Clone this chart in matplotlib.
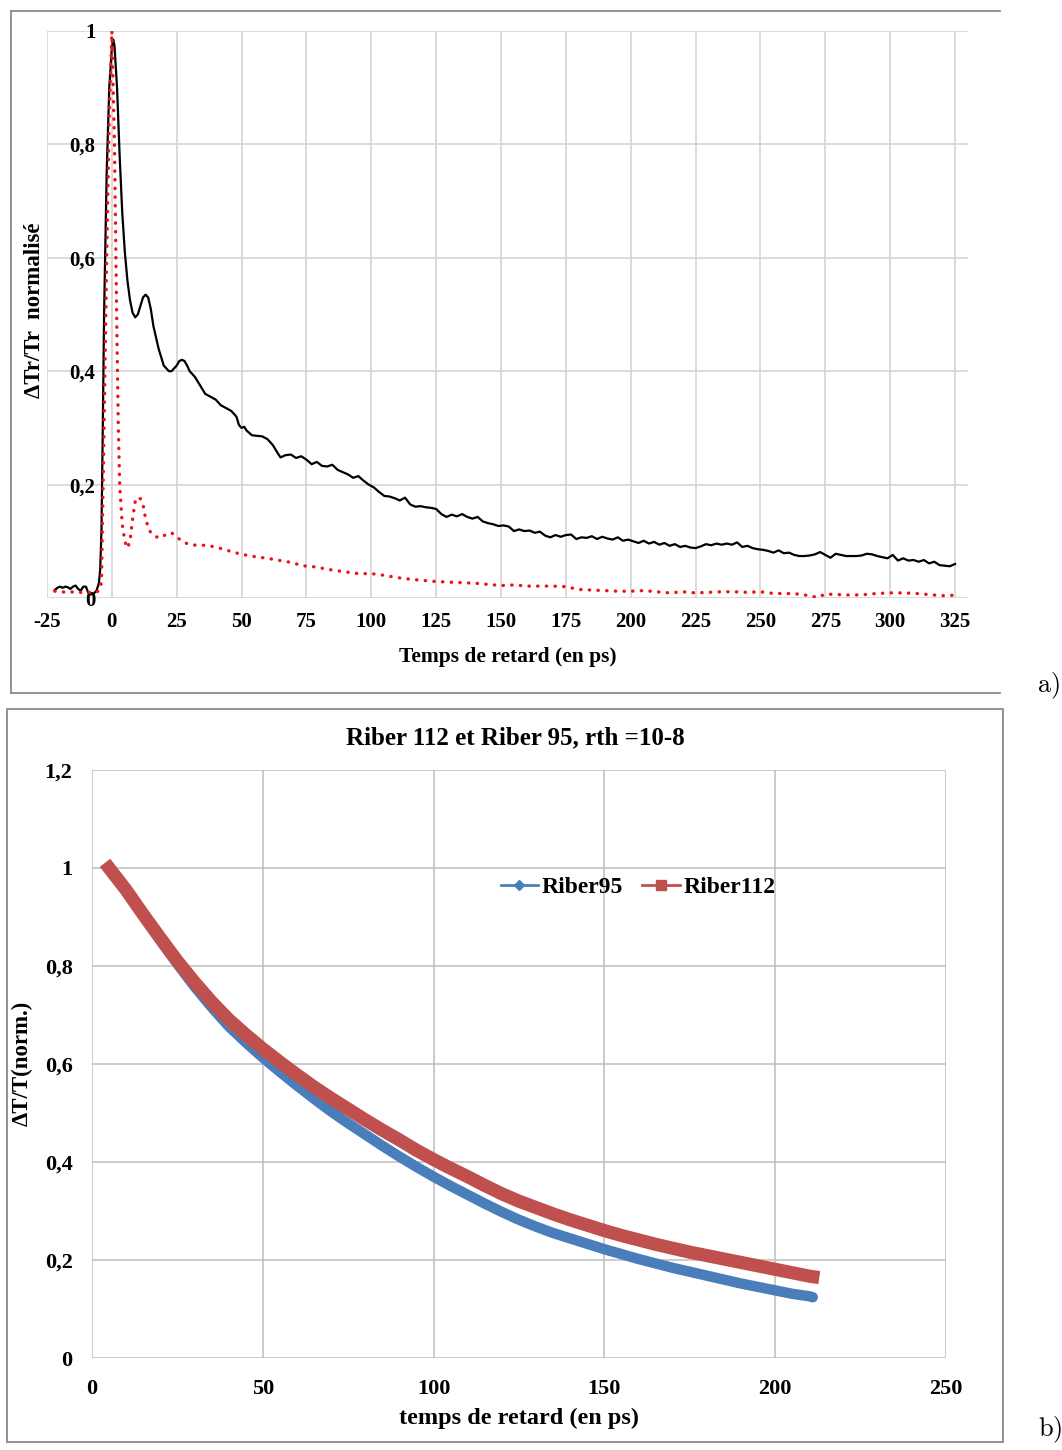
import matplotlib
matplotlib.use('Agg')
import matplotlib.pyplot as plt
from matplotlib.lines import Line2D
from matplotlib.patches import Rectangle

plt.rcParams['font.family'] = ['Liberation Serif', 'DejaVu Serif']
plt.rcParams['mathtext.fontset'] = 'cm'

# ---------------- data: chart a) ----------------
black_t = [-22, -21, -20, -19, -18, -17, -16, -15, -14, -13, -12, -11, -10, -9, -8, -7, -6, -5,
           -4.5, -4, -3.5, -3, -2, -1, 0, 0.5, 1, 2, 3, 4, 5, 6, 7, 8, 9, 10, 11, 12, 13, 14, 15,
           16, 17, 18, 19, 20, 21, 22, 23, 24, 25, 26, 27, 28, 29, 30, 32, 34, 36, 38, 40, 42,
           44, 46, 48, 49, 50, 51, 52, 54, 56, 58, 60, 62, 64, 65, 67, 69, 71, 73, 75, 77, 79,
           81, 83, 85, 87, 89, 91, 93, 95, 97, 99, 101, 103, 105, 107, 109, 111, 113, 115, 117,
           119, 121, 123, 125, 127, 129, 131, 133, 135, 137, 139, 141, 143, 145, 147, 149, 151,
           153, 155, 157, 159, 161, 163, 165, 167, 169, 171, 173, 175, 177, 179, 181, 183, 185,
           187, 189, 191, 193, 195, 197, 199, 201, 203, 205, 207, 209, 211, 213, 215, 217, 219,
           221, 223, 225, 227, 229, 231, 233, 235, 237, 239, 241, 243, 245, 247, 249, 251, 253,
           255, 257, 259, 261, 263, 265, 267, 269, 271, 273, 275, 277, 279, 281, 283, 285, 287,
           289, 291, 293, 295, 297, 299, 301, 303, 305, 307, 309, 311, 313, 315, 317, 319, 321,
           323, 325]
black_y = [0.014, 0.018, 0.020, 0.018, 0.020, 0.019, 0.016, 0.020, 0.022, 0.016, 0.013, 0.020,
           0.020, 0.008, 0.006, 0.008, 0.012, 0.026, 0.050, 0.120, 0.300, 0.500, 0.750, 0.900,
           0.970, 0.985, 0.975, 0.900, 0.780, 0.680, 0.610, 0.560, 0.525, 0.503, 0.495, 0.500,
           0.515, 0.530, 0.535, 0.530, 0.510, 0.480, 0.460, 0.440, 0.425, 0.410, 0.405, 0.400,
           0.400, 0.405, 0.410, 0.418, 0.420, 0.418, 0.410, 0.400, 0.390, 0.375, 0.360, 0.355,
           0.350, 0.340, 0.335, 0.330, 0.320, 0.305, 0.300, 0.302, 0.295, 0.287, 0.286, 0.285,
           0.280, 0.270, 0.255, 0.248, 0.252, 0.253, 0.247, 0.250, 0.244, 0.236, 0.240, 0.233,
           0.232, 0.235, 0.226, 0.222, 0.218, 0.212, 0.215, 0.207, 0.200, 0.195, 0.187, 0.180,
           0.179, 0.176, 0.172, 0.177, 0.165, 0.161, 0.162, 0.160, 0.159, 0.157, 0.148, 0.143,
           0.147, 0.144, 0.148, 0.143, 0.140, 0.143, 0.135, 0.132, 0.130, 0.127, 0.128, 0.126,
           0.118, 0.121, 0.118, 0.119, 0.115, 0.117, 0.110, 0.107, 0.111, 0.108, 0.111, 0.112,
           0.104, 0.107, 0.106, 0.109, 0.104, 0.108, 0.105, 0.103, 0.107, 0.101, 0.103, 0.100,
           0.097, 0.101, 0.096, 0.099, 0.094, 0.097, 0.092, 0.095, 0.090, 0.092, 0.089, 0.088,
           0.091, 0.095, 0.093, 0.096, 0.094, 0.096, 0.094, 0.098, 0.090, 0.092, 0.088, 0.086,
           0.085, 0.083, 0.080, 0.084, 0.079, 0.080, 0.076, 0.074, 0.074, 0.075, 0.077, 0.081,
           0.076, 0.071, 0.078, 0.076, 0.074, 0.074, 0.074, 0.075, 0.078, 0.077, 0.074, 0.072,
           0.070, 0.076, 0.066, 0.070, 0.066, 0.067, 0.064, 0.067, 0.061, 0.064, 0.058, 0.057,
           0.056, 0.060]

red_t = [-22, -20, -18, -16, -14, -12, -10, -8, -6, -4.5, -4, -3, -2, -1, 0, 1, 2, 2.5, 3, 4,
         5, 6, 7, 8, 9, 10, 11, 12, 13, 14, 15, 17, 19, 21, 23, 25, 27, 30, 33, 36, 40, 43, 46,
         50, 55, 60, 65, 70, 73, 78, 84, 90, 95, 100, 105, 110, 115, 120, 125, 130, 135, 140,
         145, 150, 155, 160, 165, 170, 175, 180, 185, 190, 195, 200, 205, 210, 215, 220, 225,
         230, 235, 240, 245, 250, 255, 260, 265, 270, 272, 275, 280, 285, 290, 295, 300, 305,
         310, 315, 320, 325]
red_y = [0.012, 0.012, 0.010, 0.010, 0.012, 0.010, 0.010, 0.010, 0.010, 0.015, 0.030, 0.300,
         0.600, 0.850, 1.000, 0.800, 0.450, 0.300, 0.200, 0.130, 0.100, 0.088, 0.100, 0.140,
         0.170, 0.178, 0.175, 0.165, 0.140, 0.125, 0.115, 0.108, 0.106, 0.113, 0.115, 0.108,
         0.100, 0.094, 0.093, 0.093, 0.090, 0.086, 0.082, 0.077, 0.073, 0.070, 0.066, 0.062,
         0.057, 0.055, 0.050, 0.046, 0.043, 0.043, 0.040, 0.036, 0.033, 0.031, 0.029, 0.028,
         0.027, 0.026, 0.024, 0.022, 0.023, 0.021, 0.021, 0.021, 0.020, 0.015, 0.014, 0.013,
         0.012, 0.012, 0.013, 0.011, 0.009, 0.011, 0.009, 0.010, 0.011, 0.011, 0.010, 0.011,
         0.008, 0.008, 0.007, 0.003, 0.001, 0.007, 0.006, 0.005, 0.006, 0.008, 0.009, 0.009,
         0.008, 0.006, 0.004, 0.005]

a_xticks = [-25, 0, 25, 50, 75, 100, 125, 150, 175, 200, 225, 250, 275, 300, 325]
a_yticks = [0, 0.2, 0.4, 0.6, 0.8, 1.0]
a_yticklabels = ['0', '0,2', '0,4', '0,6', '0,8', '1']

# ---------------- data: chart b) ----------------
b_t = [5, 10, 15, 20, 25, 30, 35, 40, 45, 50, 55, 60, 65, 70, 75, 80, 85, 90, 95, 100, 105,
       110, 115, 120, 125, 130, 135, 140, 145, 150, 155, 160, 165, 170, 175, 180, 185, 190,
       195, 200, 205, 210, 211]
riber112 = [1.000, 0.955, 0.905, 0.857, 0.810, 0.767, 0.727, 0.691, 0.660, 0.631, 0.604, 0.578,
            0.553, 0.530, 0.508, 0.486, 0.465, 0.445, 0.424, 0.405, 0.387, 0.370, 0.352, 0.335,
            0.320, 0.307, 0.294, 0.282, 0.271, 0.260, 0.250, 0.241, 0.232, 0.224, 0.216, 0.209,
            0.202, 0.195, 0.188, 0.181, 0.174, 0.167, 0.166]
riber95 = [1.000, 0.953, 0.902, 0.852, 0.804, 0.758, 0.716, 0.677, 0.644, 0.613, 0.584, 0.556,
           0.529, 0.503, 0.479, 0.456, 0.433, 0.411, 0.390, 0.370, 0.351, 0.333, 0.315, 0.298,
           0.282, 0.268, 0.255, 0.244, 0.233, 0.222, 0.212, 0.202, 0.193, 0.184, 0.176, 0.168,
           0.160, 0.152, 0.145, 0.138, 0.131, 0.126, 0.124]
b_xticks = [0, 50, 100, 150, 200, 250]
b_yticks = [0, 0.2, 0.4, 0.6, 0.8, 1.0, 1.2]
b_yticklabels = ['0', '0,2', '0,4', '0,6', '0,8', '1', '1,2']

# ---------------- figure ----------------
W, H = 1062, 1450
fig = plt.figure(figsize=(W / 100, H / 100), dpi=100)


def fx(px):
    return px / W


def fy(py):
    return 1 - py / H


frame_c = '#8a8a8a'
# frame of chart a (no right border)
for xs, ys in [([11, 1000], [11, 11]), ([11, 1000], [693, 693]), ([11, 11], [11, 693])]:
    fig.add_artist(Line2D([fx(v) for v in xs], [fy(v) for v in ys], color=frame_c, lw=1.3))
# frame of chart b
fig.add_artist(Rectangle((fx(7), fy(1442)), fx(1003) - fx(7), fy(709) - fy(1442),
                         fill=False, edgecolor=frame_c, lw=1.3, transform=fig.transFigure))

# ---- chart a ----
ax1 = fig.add_axes([fx(47), fy(598), fx(968) - fx(47), fy(31) - fy(598)])
ax1.set_xlim(-25, 330)
ax1.set_ylim(0, 1)
for s in ax1.spines.values():
    s.set_visible(False)
ax1.set_xticks(a_xticks)
ax1.set_xticklabels([str(v) for v in a_xticks])
ax1.set_yticks(a_yticks)
ax1.set_yticklabels(a_yticklabels)
ax1.grid(True, color='#d4d4d4', lw=1.2)
ax1.set_axisbelow(True)
ax1.tick_params(axis='x', length=0, pad=10, labelsize=15)
ax1.tick_params(axis='y', length=0, pad=-35, labelsize=15)
for lab in ax1.get_xticklabels() + ax1.get_yticklabels():
    lab.set_fontweight('bold')
ax1.plot(black_t, black_y, color='black', lw=1.6, zorder=3)
ax1.plot(red_t, red_y, color='#ee1111', lw=2.4, linestyle=(0, (0.1, 2.5)),
         dash_capstyle='round', zorder=4)

fig.text(fx(508), fy(657), 'Temps de retard (en ps)', ha='center', va='center',
         fontsize=15.5, fontweight='bold')
fig.text(fx(35), fy(310), 'ΔTr/Tr  normalisé', ha='center', va='center', rotation=90,
         fontsize=16.5, fontweight='bold')
fig.text(fx(1048), fy(686), r'$\mathrm{a)}$', ha='center', va='center', fontsize=19)

# ---- chart b ----
ax2 = fig.add_axes([fx(92), fy(1358), fx(946) - fx(92), fy(770) - fy(1358)])
ax2.set_xlim(0, 250)
ax2.set_ylim(0, 1.2)
for s in ax2.spines.values():
    s.set_visible(False)
ax2.set_xticks(b_xticks)
ax2.set_xticklabels([str(v) for v in b_xticks])
ax2.set_yticks(b_yticks)
ax2.set_yticklabels(b_yticklabels)
ax2.grid(True, color='#bdbdbd', lw=1.1)
ax2.set_axisbelow(True)
ax2.tick_params(axis='x', length=0, pad=15, labelsize=16)
ax2.tick_params(axis='y', length=0, pad=14, labelsize=16)
for lab in ax2.get_xticklabels() + ax2.get_yticklabels():
    lab.set_fontweight('bold')

blue_c = '#4a7ebb'
red_c = '#c0504d'
ax2.plot(b_t, riber95, color=blue_c, lw=7.5, solid_capstyle='round',
         solid_joinstyle='round', zorder=3)
ax2.plot(b_t, riber112, color=red_c, lw=9.5, solid_capstyle='projecting',
         solid_joinstyle='round', zorder=4)

fig.text(fx(515), fy(738), 'Riber 112 et Riber 95, rth =10-8', ha='center', va='center',
         fontsize=18, fontweight='bold')
fig.text(fx(519), fy(1418), 'temps de retard (en ps)', ha='center', va='center',
         fontsize=17.5, fontweight='bold')
fig.text(fx(22), fy(1063), 'ΔT/T(norm.)', ha='center', va='center', rotation=90,
         fontsize=16.5, fontweight='bold')
fig.text(fx(1050), fy(1430), r'$\mathrm{b)}$', ha='center', va='center', fontsize=19)

handles = [Line2D([], [], color=blue_c, lw=2, marker='D', ms=5, label='Riber95'),
           Line2D([], [], color=red_c, lw=2, marker='s', ms=7, label='Riber112')]
fig.legend(handles=handles, loc='center', bbox_to_anchor=(fx(638), fy(887)), ncol=2,
           frameon=False, handlelength=1.6, handletextpad=0.15, columnspacing=0.8,
           prop={'family': 'Liberation Serif', 'weight': 'bold', 'size': 17})

fig.savefig('out.png', dpi=100)
